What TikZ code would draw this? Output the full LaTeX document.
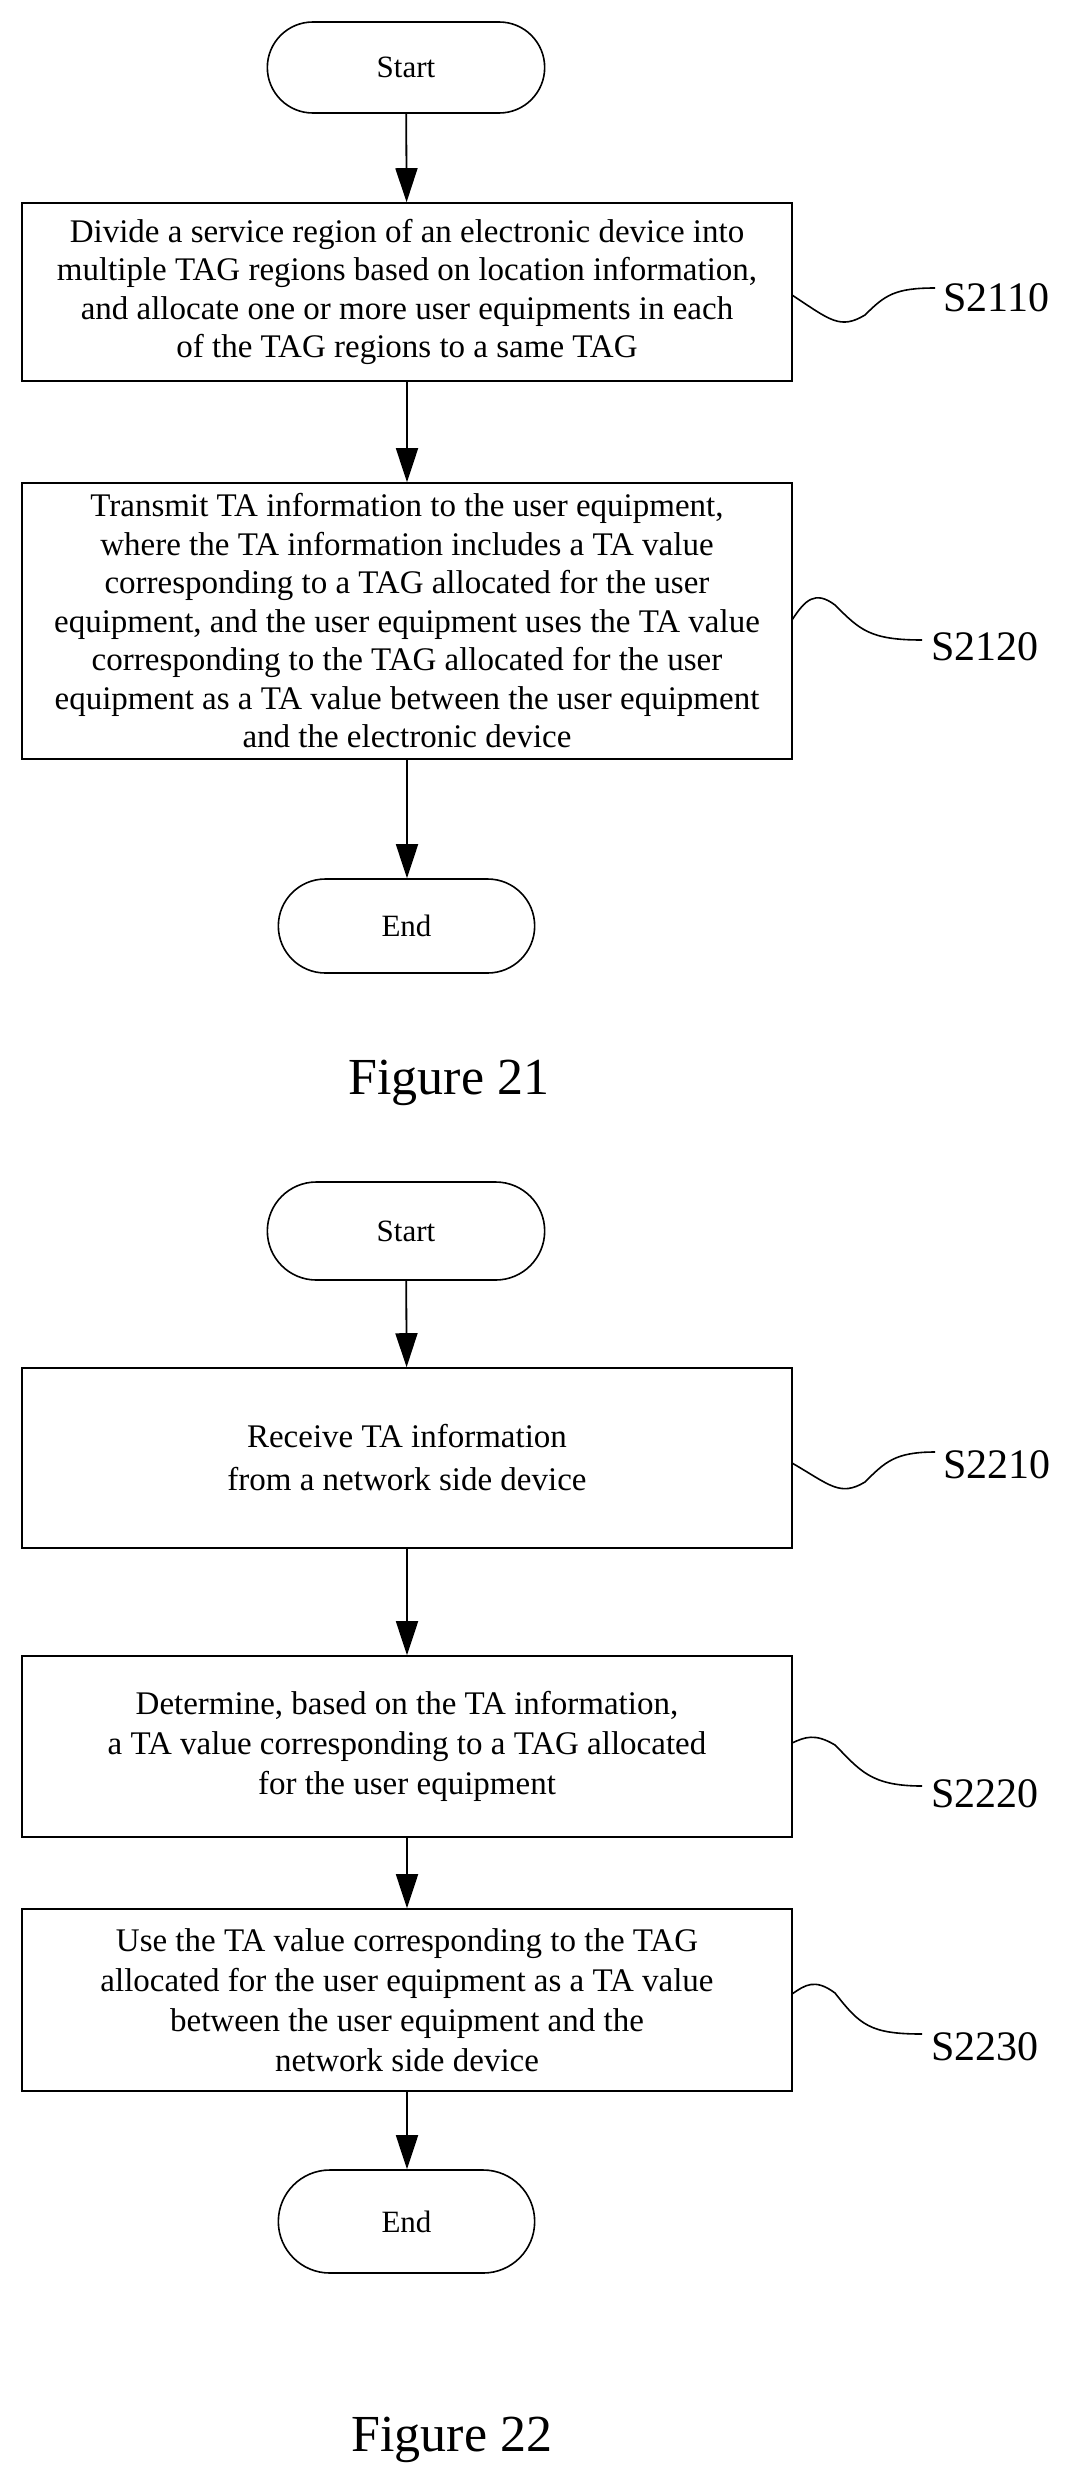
\documentclass[tikz,border=0pt]{standalone}
\usepackage{fontspec}
\setmainfont{Liberation Serif}
\usetikzlibrary{arrows.meta,shapes.misc}
\begin{document}
\begin{tikzpicture}[x=1pt,y=-1pt,
  box/.style={draw,line width=1.6pt,rectangle,minimum width=770pt,inner sep=0pt,align=center,font=\fontsize{33}{38.5}\selectfont},
  term/.style={draw,line width=1.6pt,rounded rectangle,minimum width=270pt,minimum height=94pt,font=\fontsize{31}{36}\selectfont},
  arr/.style={line width=1.8pt,-{Triangle[width=22pt,length=34pt]}},
  wave/.style={line width=1.6pt},
  lab/.style={font=\fontsize{42}{46}\selectfont,anchor=west},
  figcap/.style={font=\fontsize{52}{58}\selectfont}]
\useasboundingbox (0,0) rectangle (1069,2487);
% Figure 21
\node[term,minimum width=284pt,minimum height=91pt] (s1) at (406,67.5) {Start};
\node[box,minimum height=178pt] (b1) at (407,292) {Divide a service region of an electronic device into\\multiple TAG regions based on location information,\\and allocate one or more user equipments in each\\of the TAG regions to a same TAG};
\node[box,minimum height=276pt] (b2) at (407,621) {Transmit TA information to the user equipment,\\where the TA information includes a TA value\\corresponding to a TAG allocated for the user\\equipment, and the user equipment uses the TA value\\corresponding to the TAG allocated for the user\\equipment as a TA value between the user equipment\\and the electronic device};
\node[term,minimum width=263pt] (e1) at (406.5,926) {End};
\draw[arr] (s1) -- (b1);
\draw[arr] (b1) -- (b2);
\draw[arr] (b2) -- (b2.south |- e1.north);
\coordinate (w1) at (792,295);
\node[lab] (l1) at (940,298) {S2110};
\draw[wave] (w1) .. controls (830,320) and (840,330) .. (865,315) .. controls (885,295) and (895,288) .. (935,288);
\coordinate (w2) at (792,620);
\node[lab] (l2) at (928,647) {S2120};
\draw[wave] (w2) .. controls (805,600) and (815,590) .. (835,605) .. controls (860,630) and (870,640) .. (922,640);
\node[figcap] (c1) at (449,1083) {Figure 21};
% Figure 22
\node[term,minimum width=284pt,minimum height=98pt] (s2) at (406,1231) {Start};
\node[box,minimum height=180pt,font=\fontsize{33}{43}\selectfont] (d1) at (407,1458) {Receive TA information\\from a network side device};
\node[box,minimum height=181pt,font=\fontsize{33}{40}\selectfont] (d2) at (407,1746.5) {Determine, based on the TA information,\\a TA value corresponding to a TAG allocated\\for the user equipment};
\node[box,minimum height=182pt,font=\fontsize{33}{40}\selectfont] (d3) at (407,2000) {Use the TA value corresponding to the TAG\\allocated for the user equipment as a TA value\\between the user equipment and the\\network side device};
\node[term,minimum width=263pt,minimum height=103pt] (e2) at (406.5,2221.5) {End};
\draw[arr] (s2) -- (d1);
\draw[arr] (d1) -- (d2);
\draw[arr] (d2) -- (d3);
\draw[arr] (d3) -- (d3.south |- e2.north);
\coordinate (w3) at (792,1463);
\node[lab] (l3) at (940,1465) {S2210};
\draw[wave] (w3) .. controls (830,1485) and (840,1497) .. (865,1482) .. controls (885,1462) and (895,1452) .. (935,1452);
\coordinate (w4) at (792,1743);
\node[lab] (l4) at (928,1794) {S2220};
\draw[wave] (w4) .. controls (805,1737) and (815,1733) .. (835,1745) .. controls (860,1770) and (870,1786) .. (922,1786);
\coordinate (w5) at (792,1994);
\node[lab] (l5) at (928,2047) {S2230};
\draw[wave] (w5) .. controls (805,1985) and (815,1978) .. (835,1993) .. controls (860,2025) and (870,2034) .. (922,2034);
\node[figcap] (c2) at (452,2440) {Figure 22};
\end{tikzpicture}
\end{document}
